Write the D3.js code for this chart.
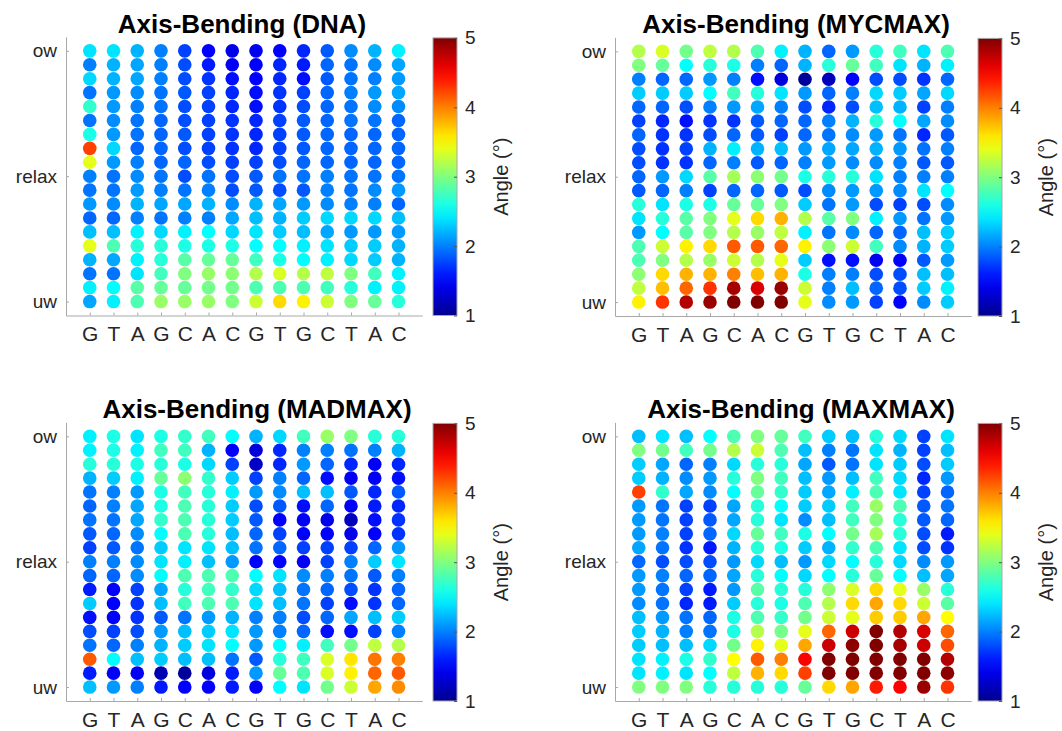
<!DOCTYPE html>
<html lang="en">
<head>
<meta charset="utf-8">
<title>Axis-Bending</title>
<script src="https://cdnjs.cloudflare.com/ajax/libs/d3/7.8.5/d3.min.js"></script>
<style>
  body { margin: 0; background: #fff; }
  svg text { font-family: "Liberation Sans", Arial, Helvetica, sans-serif; fill: #262626; }
  .axis path, .axis line { stroke: #a8a8a8; stroke-width: 1px; }
  .cbar path { stroke: #a8a8a8; }
  .cbar line { stroke: #555; }
</style>
</head>
<body>
<script>
// sequence along x, row labels along y (row 1 = uw ... row 19 = ow)
var bases = ["G","T","A","G","C","A","C","G","T","G","C","T","A","C"];
var rowTicks = [1, 10, 19];
var rowTickLabels = ["uw", "relax", "ow"];
var colorTicks = [1, 2, 3, 4, 5];

// angles, first row = ow (top), last row = uw (bottom)
var dnaAngles = [
  [2.4,2.4,2.2,2.0,1.75,1.5,1.4,1.45,1.5,1.65,1.85,2.05,2.2,2.45],
  [2.0,2.2,2.15,2.0,1.8,1.6,1.45,1.5,1.65,1.6,1.9,1.95,2.05,2.15],
  [2.35,2.2,2.15,2.0,1.8,1.7,1.55,1.5,1.65,1.55,1.85,1.95,2.0,2.1],
  [1.95,2.1,2.05,1.95,1.85,1.75,1.65,1.55,1.7,1.75,1.9,2.0,2.1,2.15],
  [2.7,2.1,2.0,1.95,1.8,1.75,1.65,1.55,1.7,1.8,1.9,1.95,2.05,2.05],
  [1.95,2.05,1.95,1.9,1.8,1.75,1.7,1.65,1.75,1.85,1.9,1.95,1.95,1.9],
  [2.6,2.1,1.95,1.9,1.85,1.75,1.7,1.65,1.75,1.85,1.9,1.9,1.9,1.9],
  [4.25,2.35,1.9,1.9,1.8,1.75,1.7,1.65,1.75,1.85,1.9,1.9,1.9,1.9],
  [3.4,2.1,2.0,1.9,1.9,1.8,1.75,1.75,1.8,1.9,1.9,1.9,1.9,1.9],
  [2.0,1.95,2.05,1.95,1.8,1.95,1.8,1.85,1.95,1.95,2.0,1.95,1.95,1.95],
  [1.95,1.95,2.1,2.0,1.95,2.0,1.8,1.85,1.8,1.85,2.0,1.95,2.05,2.1],
  [2.1,2.05,2.2,2.15,2.15,2.2,2.05,2.2,2.15,2.1,2.05,2.0,2.0,1.9],
  [1.9,1.9,2.0,1.95,2.0,2.0,2.15,2.25,2.2,2.3,2.35,2.35,2.35,2.25],
  [2.25,2.25,2.45,2.35,2.45,2.5,2.35,2.4,2.3,2.25,2.15,2.1,2.1,2.1],
  [3.4,2.8,2.65,2.65,2.6,2.6,2.6,2.5,2.5,2.45,2.4,2.3,2.3,2.2],
  [2.2,2.15,2.45,2.65,2.85,2.9,2.9,2.75,2.6,2.5,2.45,2.35,2.3,2.2],
  [1.95,1.95,2.4,2.75,3.0,3.1,3.05,3.2,3.35,3.2,3.25,3.0,2.75,2.45],
  [2.45,2.5,2.85,2.9,2.9,2.95,2.95,2.8,2.8,2.8,2.75,2.65,2.45,2.45],
  [2.15,2.45,2.8,3.1,3.1,3.1,3.0,3.3,3.65,3.55,3.3,3.0,2.9,2.65]
];

var mycmaxAngles = [
  [3.2,3.35,2.95,3.25,3.2,2.8,2.45,2.2,1.9,2.1,2.65,2.75,2.4,2.8],
  [3.0,2.9,2.5,2.65,2.6,2.0,1.9,2.2,2.65,2.9,2.75,2.4,2.2,2.45],
  [2.0,1.9,1.9,2.1,2.0,1.55,1.35,1.05,1.2,1.5,1.8,1.8,1.7,1.9],
  [2.3,2.3,2.3,2.5,2.75,2.65,2.4,2.1,1.9,2.0,2.35,2.3,2.15,2.35],
  [1.9,1.9,1.8,2.0,2.1,2.15,2.0,1.8,1.65,1.8,2.25,2.2,1.75,2.0],
  [1.75,1.65,1.55,1.7,1.7,1.85,1.9,1.9,2.0,2.2,2.65,2.5,2.15,2.05],
  [1.9,1.7,1.7,1.8,1.9,1.85,1.75,1.9,1.95,2.05,2.1,1.95,1.65,1.85],
  [1.8,1.7,1.75,2.2,2.45,2.2,2.25,2.1,2.15,2.15,2.2,2.1,1.95,2.0],
  [1.8,1.7,1.7,1.9,2.0,1.85,1.9,2.0,2.1,2.05,2.05,2.0,1.85,1.85],
  [1.9,2.1,2.35,2.85,3.15,3.05,2.95,2.6,2.65,2.65,2.4,2.0,2.0,2.0],
  [1.85,1.9,2.0,1.75,1.9,1.9,1.85,1.8,2.05,2.1,2.1,2.05,2.4,2.5],
  [2.65,2.4,2.6,2.6,2.9,2.9,3.0,2.3,1.95,2.1,1.8,1.75,1.8,2.05],
  [2.4,2.65,2.85,3.0,3.4,3.65,3.8,3.2,2.85,3.0,2.45,2.1,1.95,2.1],
  [2.1,2.5,2.85,3.0,3.2,3.1,3.25,2.45,1.95,2.05,1.9,1.9,2.25,2.3],
  [2.8,3.3,3.55,3.65,4.15,4.15,4.1,3.55,3.05,3.3,2.75,2.05,2.2,2.3],
  [2.8,3.0,3.2,3.1,3.3,3.2,3.4,2.3,1.55,1.55,1.45,1.5,1.85,2.1],
  [3.05,3.65,3.8,3.8,4.0,3.75,3.8,2.6,2.0,2.0,1.8,1.8,2.25,2.25],
  [3.25,3.75,4.1,4.3,4.85,4.65,4.9,3.3,2.0,2.25,1.9,1.8,2.3,2.45],
  [3.55,4.3,4.8,4.9,5.0,5.0,5.0,3.4,2.05,2.1,1.75,1.5,2.05,2.3]
];

var madmaxAngles = [
  [2.45,2.6,2.4,2.6,2.7,2.75,2.5,2.2,2.35,2.75,3.1,3.0,2.65,2.65],
  [2.45,2.6,2.45,2.75,2.75,2.2,1.5,1.35,1.65,2.0,2.0,1.95,2.0,2.2],
  [2.65,2.65,2.6,2.65,2.6,2.35,1.75,1.25,1.65,2.1,1.9,1.65,1.45,1.65],
  [2.2,2.3,2.45,2.9,3.05,2.7,2.3,1.75,2.0,1.9,1.55,1.45,1.45,1.55],
  [1.95,2.0,2.1,2.6,2.75,2.65,2.45,2.1,2.05,2.25,2.25,1.85,1.65,1.85],
  [1.9,2.0,2.15,2.6,2.8,2.65,2.3,1.8,1.85,1.55,1.9,1.5,1.6,1.65],
  [1.95,1.95,2.15,2.7,2.8,2.65,2.3,1.85,1.5,1.45,1.4,1.2,1.55,1.7],
  [1.85,1.9,2.05,2.5,2.8,2.65,2.25,1.9,1.75,1.5,1.5,1.4,1.5,1.7],
  [1.75,1.85,1.95,2.3,2.4,2.4,2.25,1.95,1.9,1.75,1.75,1.75,1.9,2.1],
  [2.0,2.0,2.05,2.4,2.45,2.25,2.1,1.5,1.5,1.45,1.75,2.0,2.3,2.4],
  [1.9,1.9,2.05,2.5,2.8,2.8,2.8,2.5,2.4,2.05,2.0,1.95,1.85,2.0],
  [1.6,1.5,1.75,2.15,2.65,2.75,2.7,2.35,2.25,1.95,1.9,1.8,1.7,1.9],
  [2.3,1.5,1.7,2.25,2.75,2.8,2.8,2.4,2.25,1.95,1.75,1.55,1.7,1.9],
  [1.55,1.5,1.7,1.85,1.95,2.1,2.2,2.0,2.0,1.8,1.9,2.15,2.25,2.3],
  [1.8,1.75,1.8,2.1,2.25,2.3,2.4,2.1,2.0,1.9,1.55,1.55,1.75,2.0],
  [1.95,1.9,2.0,2.2,2.3,2.4,2.5,2.1,2.5,2.45,2.75,2.95,3.25,3.2],
  [4.15,2.5,2.25,2.3,2.25,2.25,1.95,1.85,2.65,2.75,3.35,3.6,4.05,4.0],
  [1.6,1.45,1.45,1.15,1.05,1.35,1.6,2.1,2.9,2.8,3.35,3.55,4.1,4.15],
  [2.25,2.1,2.0,1.6,1.5,1.5,1.6,1.5,2.5,2.4,2.95,3.3,3.85,3.95]
];

var maxmaxAngles = [
  [2.25,2.4,2.25,2.5,2.8,3.0,2.9,2.75,2.3,2.25,2.65,2.35,1.75,2.4],
  [3.0,2.95,2.75,2.95,3.2,3.3,2.8,2.25,2.0,1.95,2.4,2.2,1.75,2.25],
  [2.3,2.15,1.9,2.0,2.35,2.65,2.65,2.15,1.85,1.95,2.4,2.3,1.8,2.3],
  [2.3,2.2,2.05,2.1,2.65,3.0,2.75,2.25,2.1,2.25,2.75,2.35,1.65,2.1],
  [4.25,2.7,2.15,2.05,2.5,2.9,2.7,2.3,2.15,2.45,2.8,2.4,1.75,1.9],
  [2.1,1.95,1.75,1.75,2.15,2.65,2.5,2.3,2.3,2.75,3.1,2.8,1.85,1.95],
  [2.1,1.95,1.75,1.85,2.15,2.65,2.4,2.05,2.25,2.75,3.0,2.65,1.85,1.9],
  [2.1,2.0,1.75,1.9,2.35,2.9,2.75,2.6,2.5,2.95,3.15,2.65,1.8,1.6],
  [2.15,1.95,1.7,1.6,2.2,2.65,2.6,2.3,2.2,2.7,2.8,2.4,1.8,1.7],
  [1.9,1.8,1.8,1.8,2.1,2.35,2.25,2.1,2.35,2.5,2.65,2.35,2.05,2.1],
  [2.1,2.0,1.9,1.9,2.15,2.65,2.5,2.35,2.5,2.65,2.9,2.5,2.25,2.15],
  [2.1,1.95,1.75,1.6,2.1,2.85,2.65,2.65,3.05,3.35,3.65,3.4,3.1,2.65],
  [2.05,1.95,1.65,1.6,2.3,2.65,2.6,2.8,3.2,3.65,3.85,3.65,3.3,2.85],
  [2.25,2.1,1.95,1.9,2.6,2.8,2.7,2.95,3.3,3.4,3.7,3.7,3.85,3.5],
  [2.3,2.2,2.0,1.95,2.6,3.2,2.95,3.4,4.1,4.7,5.0,4.8,4.65,4.1],
  [2.3,2.25,2.25,2.35,2.95,3.55,3.4,3.85,4.7,4.95,5.0,4.85,4.7,4.2],
  [2.4,2.45,2.6,2.7,3.5,4.15,4.0,4.5,5.0,5.0,5.0,5.0,5.0,4.8],
  [2.4,2.45,2.4,2.5,3.25,3.8,3.65,4.25,5.0,5.0,5.0,5.0,5.0,4.95],
  [3.0,3.0,3.0,2.65,2.65,2.65,2.65,2.9,3.65,3.85,4.4,4.5,4.9,4.3]
];

var panels = [
  { title: "Axis-Bending (DNA)",    data: dnaAngles,    left: 66,  bottom: 315.5, titleX: 242, cbX: 433 },
  { title: "Axis-Bending (MYCMAX)", data: mycmaxAngles, left: 615, bottom: 316,   titleX: 796, cbX: 978 },
  { title: "Axis-Bending (MADMAX)", data: madmaxAngles, left: 66,  bottom: 701,   titleX: 257, cbX: 433 },
  { title: "Axis-Bending (MAXMAX)", data: maxmaxAngles, left: 615, bottom: 701,   titleX: 801, cbX: 978 }
];

var W = 1062, H = 731;
var plotW = 15 * 23.75, plotH = 20 * 13.93;

// MATLAB jet
var jet = d3.scaleLinear()
    .domain([1, 1.5, 2.5, 3.5, 4.5, 5])
    .range(["#00008f", "#0000ff", "#00ffff", "#ffff00", "#ff0000", "#800000"])
    .clamp(true);

var svg = d3.select("body").append("svg")
    .attr("width", W)
    .attr("height", H);

var grad = svg.append("defs").append("linearGradient")
    .attr("id", "jetgrad")
    .attr("x1", 0).attr("y1", 1).attr("x2", 0).attr("y2", 0);
grad.selectAll("stop")
    .data(d3.range(0, 1.0001, 0.05))
    .enter().append("stop")
    .attr("offset", function(t) { return t; })
    .attr("stop-color", function(t) { return jet(1 + 4 * t); });

panels.forEach(function(p) {
  var top = p.bottom - plotH;
  var x = d3.scaleLinear().domain([0, 15]).range([p.left, p.left + plotW]);
  var y = d3.scaleLinear().domain([0, 20]).range([p.bottom, top]);

  var g = svg.append("g");

  // title
  g.append("text")
      .attr("x", p.titleX)
      .attr("y", top - 4)
      .attr("text-anchor", "middle")
      .style("font-size", "26px")
      .style("font-weight", "bold")
      .style("fill", "#000")
      .text(p.title);

  // dots
  var cells = [];
  p.data.forEach(function(row, r) {
    row.forEach(function(v, c) {
      cells.push({ col: c + 1, row: 19 - r, v: v });
    });
  });
  g.selectAll("circle")
      .data(cells)
      .enter().append("circle")
      .attr("cx", function(d) { return x(d.col); })
      .attr("cy", function(d) { return y(d.row); })
      .attr("r", 6.8)
      .attr("fill", function(d) { return jet(d.v); });

  // x axis
  var xa = g.append("g")
      .attr("class", "axis")
      .attr("transform", "translate(0," + p.bottom + ")")
      .call(d3.axisBottom(x)
          .tickValues(d3.range(1, 15))
          .tickFormat(function(d) { return bases[d - 1]; })
          .tickSizeInner(-3)
          .tickSizeOuter(0)
          .tickPadding(11));
  xa.selectAll("text").style("font-size", "21px").style("fill", "#262626");

  // y axis
  var ya = g.append("g")
      .attr("class", "axis")
      .attr("transform", "translate(" + p.left + ",0)")
      .call(d3.axisLeft(y)
          .tickValues(rowTicks)
          .tickFormat(function(d, i) { return rowTickLabels[i]; })
          .tickSizeInner(-3)
          .tickSizeOuter(0)
          .tickPadding(9));
  ya.selectAll("text").style("font-size", "19px").style("fill", "#262626");

  // colorbar
  var cbTop = top + 1, cbW = 24;
  var cy = d3.scaleLinear().domain([1, 5]).range([p.bottom, cbTop]);
  g.append("rect")
      .attr("x", p.cbX).attr("y", cbTop)
      .attr("width", cbW).attr("height", p.bottom - cbTop)
      .attr("fill", "url(#jetgrad)")
      .attr("stroke", "#a8a8a8");
  var ca = g.append("g")
      .attr("class", "cbar")
      .attr("transform", "translate(" + (p.cbX + cbW) + ",0)")
      .call(d3.axisRight(cy)
          .tickValues(colorTicks)
          .tickFormat(d3.format("d"))
          .tickSizeInner(-3)
          .tickSizeOuter(0)
          .tickPadding(8));
  ca.select(".domain").remove();
  ca.selectAll("text").style("font-size", "19px").style("fill", "#262626");

  g.append("text")
      .attr("transform", "translate(" + (p.cbX + cbW + 51) + "," + ((p.bottom + cbTop) / 2) + ") rotate(-90)")
      .attr("text-anchor", "middle")
      .style("font-size", "20px")
      .text("Angle (\u00b0)");
});
</script>
</body>
</html>
